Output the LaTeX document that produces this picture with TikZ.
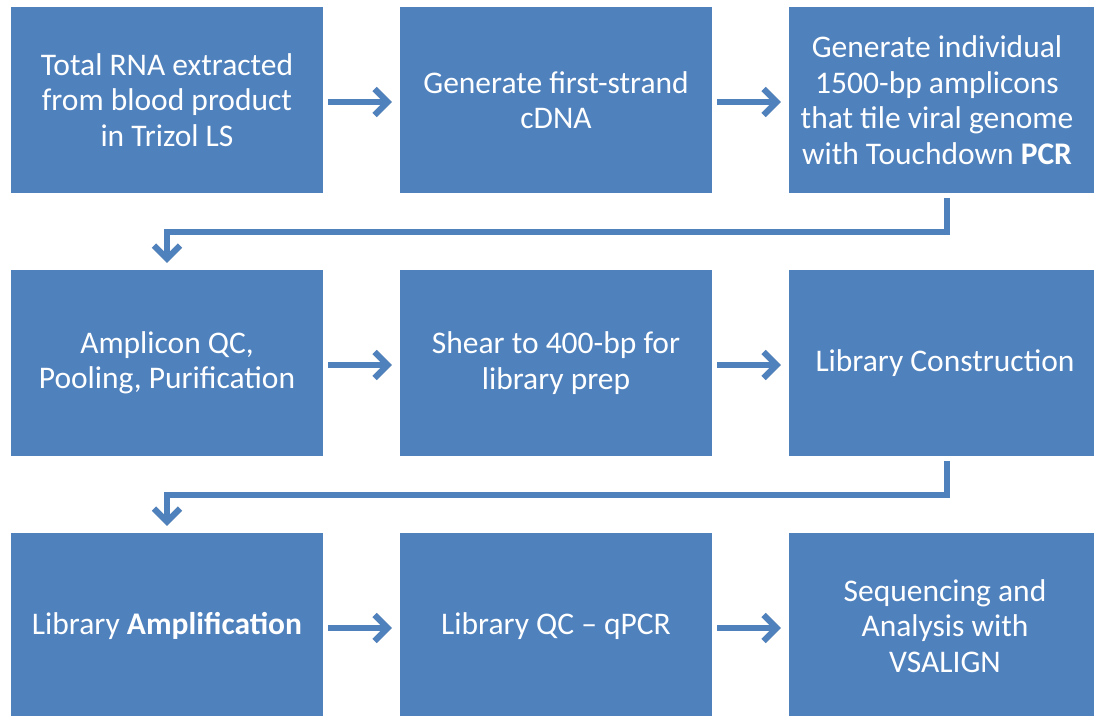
\documentclass[tikz,border=0pt]{standalone}
\usepackage{fontspec}
\setmainfont{Carlito}
\usetikzlibrary{arrows.meta,calc}
\definecolor{stepblue}{RGB}{79,129,189}
\tikzset{
  stepbox/.style={fill=stepblue, text=white, minimum width=312pt, minimum height=186pt,
    inner sep=0pt, align=center, font=\fontsize{31.5}{35.5}\selectfont},
  flowline/.style={draw=stepblue, line width=6pt, line join=miter,
    -{Straight Barb[length=13pt, width=26pt]}},
  flowshade/.style={draw=black, opacity=0.18, line width=6pt, line join=miter,
    -{Straight Barb[length=13pt, width=26pt]}, xshift=1.5pt, yshift=-2.5pt},
}
\begin{document}
\begin{tikzpicture}[x=1pt, y=-1pt]
  \useasboundingbox (0,0) rectangle (1094,715);
  \clip (0,0) rectangle (1094,715);
  \fill[white] (0,0) rectangle (1094,715);

  % process steps, three rows of three
  \node[stepbox] (s1) at (167,100) {Total RNA extracted\\from blood product\\in Trizol LS};
  \node[stepbox] (s2) at (556,100) {Generate first-strand\\cDNA};
  \node[stepbox] (s3) at (945,100) {};
  \node[align=center, text=white, font=\fontsize{31.5}{35.5}\selectfont] (t3) at ($(s3.center)+(-8,0)$)
    {Generate individual\\1500-bp amplicons\\that tile viral genome\\with Touchdown \textbf{PCR}};
  \node[stepbox] (s4) at (167,363) {Amplicon QC,\\Pooling, Purification};
  \node[stepbox] (s5) at (556,363) {Shear to 400-bp for\\library prep};
  \node[stepbox] (s6) at (945,363) {Library Construction};
  \node[stepbox] (s7) at (167,626) {Library \textbf{Amplification}};
  \node[stepbox] (s8) at (556,626) {Library QC -- qPCR};
  \node[stepbox] (s9) at (945,626) {Sequencing and\\Analysis with\\VSALIGN};

  % connectors within a row
  \foreach \a/\b in {s1/s2, s2/s3, s4/s5, s5/s6, s7/s8, s8/s9} {
    \draw[flowshade] ($(\a.east)+(5,2)$) -- ($(\b.west)+(-8,2)$);
    \draw[flowline]  ($(\a.east)+(5,2)$) -- ($(\b.west)+(-8,2)$);
  }

  % connectors wrapping to the next row
  \foreach \a/\b in {s3/s4, s6/s7} {
    \draw[flowshade] ($(\a.south)+(2,5)$) -- ++(0,34) -| ($(\b.north)+(0,-7)$);
    \draw[flowline]  ($(\a.south)+(2,5)$) -- ++(0,34) -| ($(\b.north)+(0,-7)$);
  }
\end{tikzpicture}
\end{document}
